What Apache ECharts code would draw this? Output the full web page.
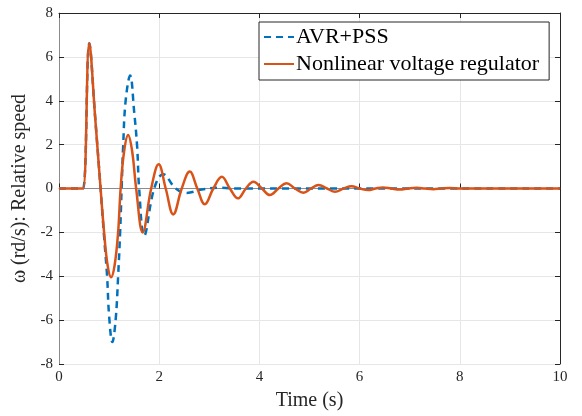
<!DOCTYPE html>
<html>
<head>
<meta charset="utf-8">
<script src="https://cdn.jsdelivr.net/npm/echarts@6/dist/echarts.min.js"></script>
<style>
  html, body { margin: 0; padding: 0; background: #fff; }
  #chart { width: 582px; height: 416px; }
</style>
</head>
<body>
<div id="chart"></div>
<script>
// 图例名称
var seriesNames = ['AVR+PSS', 'Nonlinear voltage regulator'];

// AVR+PSS 曲线 (时间 s / 转速偏差)
var pssTime  = [0, 0.40, 0.48, 0.605, 0.72, 0.83, 0.90, 0.96, 1.00, 1.065, 1.13, 1.18, 1.22, 1.25, 1.28, 1.33, 1.42, 1.50, 1.56, 1.60, 1.70, 1.90, 2.08, 2.33, 2.55, 2.85, 3.20, 3.60, 10];
var pssValue = [0, 0, 0, 6.62, 3.3, 0, -2.2, -4.0, -5.8, -7.0, -6.0, -4.0, -2.0, 0, 1.9, 4.0, 5.15, 3.5, 1.9, 0, -2.15, 0, 0.65, 0, -0.2, -0.05, 0.03, 0, 0];

// 非线性电压调节器曲线
var nlTime  = [0, 0.40, 0.48, 0.605, 0.72, 0.83, 0.90, 0.97, 1.04, 1.11, 1.18, 1.23, 1.30, 1.38, 1.46, 1.54, 1.67, 1.84, 1.99, 2.13, 2.28, 2.45, 2.61, 2.76, 2.91, 3.08, 3.25, 3.41, 3.57, 3.73, 3.88, 4.05, 4.21, 4.38, 4.54, 4.71, 4.88, 5.03, 5.18, 5.35, 5.51, 5.68, 5.84, 6.00, 6.17, 6.32, 6.47, 6.63, 6.80, 6.97, 7.14, 7.30, 7.47, 7.63, 7.80, 8.00, 10];
var nlValue = [0, 0, 0, 6.62, 3.3, 0, -2.0, -3.5, -4.05, -3.5, -2.0, 0, 1.7, 2.44, 1.7, 0, -2.0, 0, 1.1, 0, -1.18, 0, 0.77, 0, -0.72, 0, 0.53, 0, -0.45, 0, 0.31, 0, -0.3, 0, 0.24, 0, -0.19, 0, 0.16, 0, -0.15, 0, 0.1, 0, -0.07, 0, 0.05, 0, -0.05, 0, 0.03, 0, -0.03, 0, 0.02, 0, 0];

// 坐标轴刻度
var xTicks = [0, 2, 4, 6, 8, 10];
var yTicks = [-8, -6, -4, -2, 0, 2, 4, 6, 8];

function toPairs(ts, vs) {
  return ts.map(function (t, i) { return [t, vs[i]]; });
}

var chartDom = document.getElementById('chart');
var myChart = echarts.init(chartDom, null, { renderer: 'canvas' });
var font = '"Liberation Serif", "Times New Roman", serif';

var option = {
  animation: false,
  backgroundColor: '#fff',
  grid: { left: 59, right: 22, top: 13, bottom: 52, outerBoundsMode: 'none', containLabel: false },
  legend: {
    data: seriesNames,
    orient: 'vertical',
    left: 259,
    top: 22,
    padding: [4, 10, 5, 4],
    itemGap: 5,
    itemWidth: 30,
    itemHeight: 12,
    itemStyle: { opacity: 0 },
    borderColor: '#262626',
    borderWidth: 1,
    backgroundColor: '#fff',
    textStyle: { fontFamily: font, fontSize: 22, color: '#000', padding: [0, 0, 0, -3] }
  },
  xAxis: [
    {
      type: 'value', min: xTicks[0], max: xTicks[xTicks.length - 1], interval: 2,
      name: 'Time (s)', nameLocation: 'middle', nameGap: 27,
      nameTextStyle: { fontFamily: font, fontSize: 20, color: '#262626' },
      axisLine: { show: true, lineStyle: { color: '#8c8c8c', width: 1 } },
      axisTick: { show: true, inside: true, length: 5, lineStyle: { color: '#262626' } },
      axisLabel: { fontFamily: font, fontSize: 15, color: '#262626', margin: 6 },
      splitLine: { show: true, lineStyle: { color: '#e6e6e6', width: 1 } }
    },
    {
      type: 'value', position: 'top', min: 0, max: 10, interval: 2,
      axisLine: { show: true, onZero: false, lineStyle: { color: '#262626', width: 1 } },
      axisTick: { show: true, inside: true, length: 5, lineStyle: { color: '#262626' } },
      axisLabel: { show: false },
      splitLine: { show: false }
    }
  ],
  yAxis: [
    {
      type: 'value', min: yTicks[0], max: yTicks[yTicks.length - 1], interval: 2,
      name: 'ω (rd/s): Relative speed', nameLocation: 'middle', nameGap: 23,
      nameTextStyle: { fontFamily: font, fontSize: 20, color: '#262626' },
      axisLine: { show: true, onZero: false, lineStyle: { color: '#8c8c8c', width: 1 } },
      axisTick: { show: true, inside: true, length: 5, lineStyle: { color: '#262626' } },
      axisLabel: { fontFamily: font, fontSize: 15, color: '#262626', margin: 6 },
      splitLine: { show: true, lineStyle: { color: '#e6e6e6', width: 1 } }
    },
    {
      type: 'value', position: 'right', min: -8, max: 8, interval: 2,
      axisLine: { show: true, onZero: false, lineStyle: { color: '#262626', width: 1 } },
      axisTick: { show: true, inside: true, length: 5, lineStyle: { color: '#262626' } },
      axisLabel: { show: false },
      splitLine: { show: false }
    }
  ],
  series: [
    {
      name: seriesNames[0],
      type: 'line',
      data: toPairs(pssTime, pssValue),
      smooth: 0.4,
      showSymbol: false,
      symbol: 'none',
      color: '#0072BD',
      lineStyle: { color: '#0072BD', width: 2.5, type: [7, 5] },
      z: 2
    },
    {
      name: seriesNames[1],
      type: 'line',
      data: toPairs(nlTime, nlValue),
      smooth: 0.4,
      showSymbol: false,
      symbol: 'none',
      color: '#D95319',
      lineStyle: { color: '#D95319', width: 2.5 },
      z: 3
    }
  ]
};

option && myChart.setOption(option);
</script>
</body>
</html>
